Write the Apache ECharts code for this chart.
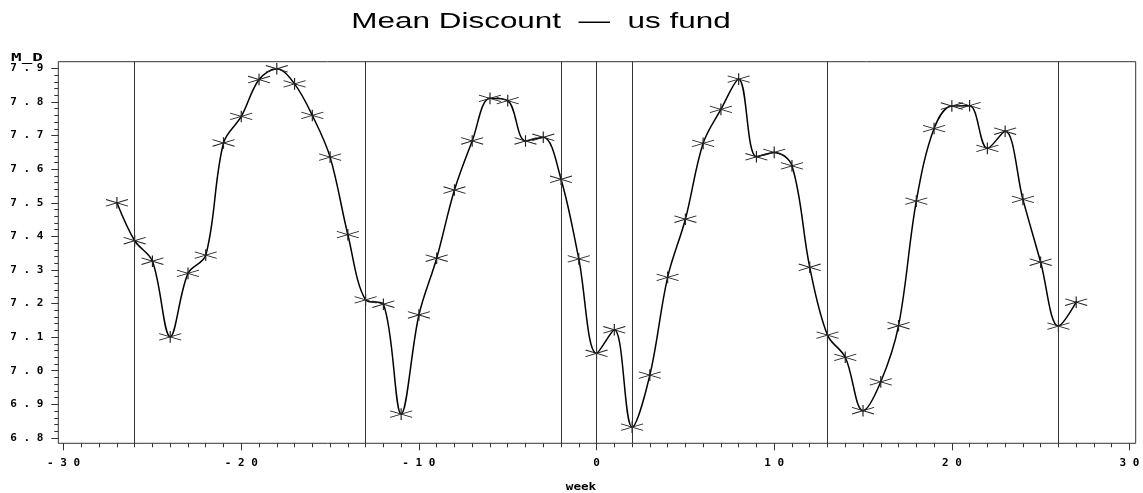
<!DOCTYPE html>
<html>
<head>
<meta charset="utf-8">
<script src="https://cdn.jsdelivr.net/npm/echarts@6/dist/echarts.min.js"></script>
<style>
  html, body { margin: 0; padding: 0; background: #fff; }
  #chart { width: 1143px; height: 493px; }
</style>
</head>
<body>
<div id="chart"></div>
<script>
// Weekly mean discount of the US fund, weeks relative to the event week 0
const weeks = [-27, -26, -25, -24, -23, -22, -21, -20, -19, -18, -17, -16, -15, -14,
  -13, -12, -11, -10, -9, -8, -7, -6, -5, -4, -3, -2, -1, 0, 1, 2, 3, 4, 5, 6, 7,
  8, 9, 10, 11, 12, 13, 14, 15, 16, 17, 18, 19, 20, 21, 22, 23, 24, 25, 26, 27];
const meanDiscount = [7.500, 7.387, 7.326, 7.101, 7.290, 7.344, 7.678, 7.757, 7.867, 7.899,
  7.854, 7.760, 7.636, 7.405, 7.211, 7.198, 6.871, 7.166, 7.335, 7.538, 7.684, 7.811,
  7.804, 7.684, 7.695, 7.570, 7.333, 7.052, 7.122, 6.832, 6.987, 7.278, 7.451, 7.677,
  7.778, 7.868, 7.637, 7.650, 7.610, 7.308, 7.106, 7.040, 6.881, 6.967, 7.134, 7.505,
  7.721, 7.788, 7.789, 7.662, 7.713, 7.510, 7.323, 7.133, 7.204];

// Vertical reference lines
const refWeeks = [-26, -13, -2, 0, 2, 13, 26];

// Tick labels
const xTickLabels = [-30, -20, -10, 0, 10, 20, 30];
const yTickLabels = [6.8, 6.9, 7.0, 7.1, 7.2, 7.3, 7.4, 7.5, 7.6, 7.7, 7.8, 7.9];

// Minor tick positions: every week on x, every 0.02 on y
const xMinor = [];
for (let w = -30; w <= 30; w++) xMinor.push(w);
const yMinor = [];
for (let k = 340; k <= 395; k++) yMinor.push(Math.round(k * 2) / 100);

const X_MIN = -30.3, X_MAX = 30.35;
const Y_MIN = 6.784, Y_MAX = 7.92;

const AXIS_COLOR = '#333';
const tickFont = { fontFamily: 'DejaVu Sans Mono', fontWeight: 'bold', fontSize: 11, color: '#000' };
const spaced = s => String(s).split('').join(' ');
const noLine = { show: false, onZero: false };

const data = weeks.map((w, i) => [w, meanDiscount[i]]);

const chart = echarts.init(document.getElementById('chart'), null, { renderer: 'canvas' });

chart.setOption({
  animation: false,
  backgroundColor: '#fff',
  grid: {
    left: 58.3, right: 7.3, top: 61.7, bottom: 49.7,
    show: true, borderColor: AXIS_COLOR, borderWidth: 1,
    backgroundColor: 'transparent',
    outerBoundsMode: 'none'
  },
  xAxis: [
    {
      type: 'value', min: X_MIN, max: X_MAX, position: 'bottom',
      axisLine: noLine, splitLine: { show: false },
      axisTick: { show: true, customValues: xTickLabels, length: 7, lineStyle: { color: AXIS_COLOR } },
      axisLabel: { show: true, customValues: xTickLabels, margin: 14, formatter: v => spaced(v), ...tickFont }
    },
    {
      type: 'value', min: X_MIN, max: X_MAX, position: 'bottom',
      axisLine: noLine, splitLine: { show: false },
      axisTick: { show: true, customValues: xMinor, length: 4, lineStyle: { color: AXIS_COLOR } },
      axisLabel: { show: false }
    }
  ],
  yAxis: [
    {
      type: 'value', min: Y_MIN, max: Y_MAX, position: 'left',
      axisLine: noLine, splitLine: { show: false },
      axisTick: { show: true, customValues: yTickLabels, length: 7, lineStyle: { color: AXIS_COLOR } },
      axisLabel: { show: true, customValues: yTickLabels, margin: 15, formatter: v => spaced(v.toFixed(1)), ...tickFont }
    },
    {
      type: 'value', min: Y_MIN, max: Y_MAX, position: 'left',
      axisLine: noLine, splitLine: { show: false },
      axisTick: { show: true, customValues: yMinor, length: 4, lineStyle: { color: AXIS_COLOR } },
      axisLabel: { show: false }
    }
  ],
  graphic: [
    {
      type: 'text', x: 541, y: 22, scaleX: 1.43, silent: true,
      style: {
        text: 'Mean Discount  \u2014  us fund',
        font: '22px "Liberation Sans", Arial, sans-serif',
        fill: '#000', align: 'center', verticalAlign: 'middle'
      }
    },
    {
      type: 'text', x: 27, y: 58, scaleX: 1.6, silent: true,
      style: {
        text: 'M_D', font: 'bold 11px "DejaVu Sans Mono", monospace',
        fill: '#000', align: 'center', verticalAlign: 'middle'
      }
    },
    {
      type: 'text', x: 581, y: 487, scaleX: 1.15, silent: true,
      style: {
        text: 'week', font: 'bold 11px "DejaVu Sans Mono", monospace',
        fill: '#000', align: 'center', verticalAlign: 'middle'
      }
    }
  ],
  series: [
    {
      type: 'line',
      xAxisIndex: 0, yAxisIndex: 0,
      data: data,
      smooth: 0.35,
      lineStyle: { color: '#000', width: 1.5 },
      symbol: 'path://M11,0L11,16M0,3.5L22,12.5M0,12.5L22,3.5',
      symbolSize: [22, 16],
      symbolKeepAspect: true,
      itemStyle: { color: 'transparent', borderColor: '#222', borderWidth: 1 },
      emphasis: { disabled: true },
      markLine: {
        silent: true,
        symbol: ['none', 'none'],
        label: { show: false },
        lineStyle: { color: AXIS_COLOR, width: 1, type: 'solid' },
        emphasis: { disabled: true },
        data: refWeeks.map(w => ({ xAxis: w }))
      }
    }
  ]
});
</script>
</body>
</html>
